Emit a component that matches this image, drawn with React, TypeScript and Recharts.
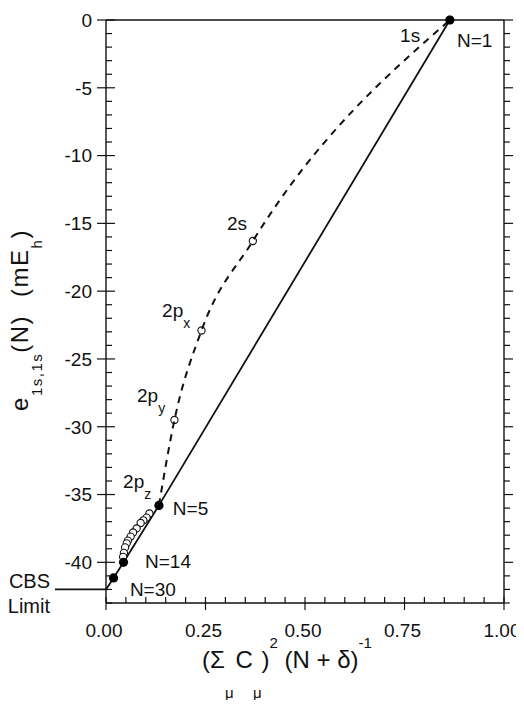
import { ComposedChart, Line, Scatter, XAxis, YAxis } from "recharts";

const font = "'Liberation Sans', Arial, Helvetica, sans-serif";
const ink = "#111";

// filled circles: N = 1, 5, 14, 30
const filledX = [0.864, 0.133, 0.044, 0.019];
const filledY = [0, -35.8, -40.0, -41.15];
const cbsLimit = -42;

// open circles on the dashed curve: 1s, 2s, 2px, 2py, 2pz
const orbitalX = [0.864, 0.369, 0.24, 0.172, 0.133];
const orbitalY = [0, -16.3, -22.9, -29.5, -35.8];

// open circles between N=5 and N=14
const clusterX = [0.109, 0.102, 0.094, 0.087, 0.077, 0.068, 0.062, 0.055, 0.052, 0.048, 0.045, 0.043];
const clusterY = [-36.4, -36.7, -36.9, -37.1, -37.5, -37.8, -38.1, -38.4, -38.6, -38.9, -39.3, -39.6];

// annotations (data coordinates)
const noteText = ["1s", "N=1", "2s", "2p", "2p", "2p", "N=5", "N=14", "N=30"];
const noteSub = ["", "", "", "x", "y", "z", "", "", ""];
const noteX = [0.739, 0.882, 0.304, 0.141, 0.078, 0.043, 0.168, 0.098, 0.06];
const noteY = [-1.6, -2.0, -15.5, -21.9, -28.2, -34.5, -36.5, -40.4, -42.5];

const xTicks = [0, 0.05, 0.1, 0.15, 0.2, 0.25, 0.3, 0.35, 0.4, 0.45, 0.5, 0.55, 0.6, 0.65, 0.7, 0.75, 0.8, 0.85, 0.9, 0.95, 1];
const xMajor = [0, 0.25, 0.5, 0.75, 1];
const yTicks = [
  0, -1, -2, -3, -4, -5, -6, -7, -8, -9, -10, -11, -12, -13, -14, -15, -16, -17, -18, -19, -20, -21,
  -22, -23, -24, -25, -26, -27, -28, -29, -30, -31, -32, -33, -34, -35, -36, -37, -38, -39, -40, -41,
  -42, -43,
];
const yMajor = [0, -5, -10, -15, -20, -25, -30, -35, -40];

const filled = filledX.map((x, i) => ({ x, y: filledY[i] }));
const solidPath = [...filled, { x: 0, y: cbsLimit }];
const orbitals = orbitalX.map((x, i) => ({ x, y: orbitalY[i] }));
const dashedPath = [...orbitals].sort((a, b) => a.x - b.x);
const cluster = clusterX.map((x, i) => ({ x, y: clusterY[i] }));
const notes = noteText.map((text, i) => ({ x: noteX[i], y: noteY[i], text, sub: noteSub[i] }));

const isMajor = (v: number, list: number[]) => list.some((m) => Math.abs(m - v) < 1e-9);

const BottomTick = (props: any) => {
  const { x, y, payload } = props;
  const major = isMajor(payload.value, xMajor);
  return (
    <g>
      <line x1={x} x2={x} y1={y - 6} y2={major ? y + 7 : y} stroke={ink} strokeWidth={1.2} />
      {major && (
        <text x={x - 2} y={y + 34} textAnchor="middle" fontSize={19} fontFamily={font} fill={ink}>
          {payload.value.toFixed(2)}
        </text>
      )}
    </g>
  );
};

const TopTick = (props: any) => {
  const { x, y, payload } = props;
  const major = isMajor(payload.value, xMajor);
  return <line x1={x} x2={x} y1={y} y2={y - (major ? 10 : 5)} stroke={ink} strokeWidth={1.2} />;
};

const LeftTick = (props: any) => {
  const { x, y, payload } = props;
  const v = payload.value;
  const major = isMajor(v, yMajor);
  return (
    <g>
      <line x1={major ? x - 9 : x} x2={x + (major ? 9 : 6)} y1={y} y2={y} stroke={ink} strokeWidth={1.2} />
      {major && (
        <text x={x - 14} y={y} dy="0.36em" textAnchor="end" fontSize={19} fontFamily={font} fill={ink}>
          {v}
        </text>
      )}
      {v === cbsLimit && (
        <g>
          <line x1={x - 51} x2={x} y1={y} y2={y} stroke={ink} strokeWidth={1.8} />
          <text x={x - 56} y={y - 1} textAnchor="end" fontSize={20} fontFamily={font} fill={ink}>
            CBS
          </text>
          <text x={x - 56} y={y + 24} textAnchor="end" fontSize={20} fontFamily={font} fill={ink}>
            Limit
          </text>
        </g>
      )}
    </g>
  );
};

const RightTick = (props: any) => {
  const { x, y, payload } = props;
  const major = isMajor(payload.value, yMajor);
  return <line x1={x} x2={x + (major ? 9 : 6)} y1={y} y2={y} stroke={ink} strokeWidth={1.2} />;
};

const renderXTitle = (props: any) => {
  const vb = props.viewBox;
  return (
    <text x={vb.x + 181} y={vb.y + 65} textAnchor="middle" fontSize={24} fontFamily={font} fill={ink}>
      <tspan>(Σ</tspan>
      <tspan fontSize={15} dy={30}>μ</tspan>
      <tspan dy={-30} dx={2}>C</tspan>
      <tspan fontSize={15} dy={30}>μ</tspan>
      <tspan dy={-30}>)</tspan>
      <tspan fontSize={15} dy={-20}>2</tspan>
      <tspan dy={20}>{" (N + δ)"}</tspan>
      <tspan fontSize={15} dy={-20}>-1</tspan>
    </text>
  );
};

const renderYTitle = (props: any) => {
  const vb = props.viewBox;
  const cx = vb.x + vb.width - 78;
  const cy = vb.y + vb.height / 2 + 8.5;
  return (
    <text
      x={cx}
      y={cy}
      transform={`rotate(-90, ${cx}, ${cy})`}
      textAnchor="middle"
      fontSize={24}
      letterSpacing={1.5}
      fontFamily={font}
      fill={ink}
    >
      <tspan>e</tspan>
      <tspan fontSize={15} dy={14}>1s,1s</tspan>
      <tspan dy={-14}>(N)</tspan>
      <tspan dx={18}>(mE</tspan>
      <tspan fontSize={15} dy={14}>h</tspan>
      <tspan dy={-14}>)</tspan>
    </text>
  );
};

const NoteShape = (props: any) => {
  const { cx, cy, payload } = props;
  return (
    <text x={cx} y={cy} fontSize={19} fontFamily={font} fill={ink}>
      {payload.text}
      {payload.sub && (
        <tspan fontSize={14} dy={11}>
          {payload.sub}
        </tspan>
      )}
    </text>
  );
};

const axisLine = { stroke: ink, strokeWidth: 1.4 };

export default function App() {
  return (
    <div style={{ width: 524, height: 708, margin: -8 }}>
      <ComposedChart width={524} height={708} margin={{ top: 19, right: 19, bottom: 104, left: 105 }}>
        <XAxis
          type="number"
          dataKey="x"
          domain={[0, 1]}
          ticks={xTicks}
          interval={0}
          height={1}
          tickSize={0}
          tickMargin={0}
          tickLine={false}
          axisLine={axisLine}
          tick={BottomTick}
          label={renderXTitle}
        />
        <XAxis
          xAxisId="top"
          orientation="top"
          type="number"
          domain={[0, 1]}
          allowDataOverflow
          ticks={xTicks}
          interval={0}
          height={1}
          tickSize={0}
          tickMargin={0}
          tickLine={false}
          axisLine={axisLine}
          tick={TopTick}
        />
        <YAxis
          type="number"
          dataKey="y"
          domain={[-43, 0]}
          ticks={yTicks}
          interval={0}
          width={1}
          tickSize={0}
          tickMargin={0}
          tickLine={false}
          axisLine={axisLine}
          tick={LeftTick}
          label={renderYTitle}
        />
        <YAxis
          yAxisId="right"
          orientation="right"
          type="number"
          domain={[-43, 0]}
          allowDataOverflow
          ticks={yTicks}
          interval={0}
          width={1}
          tickSize={0}
          tickMargin={0}
          tickLine={false}
          axisLine={axisLine}
          tick={RightTick}
        />
        <Line
          data={solidPath}
          dataKey="y"
          type="linear"
          stroke={ink}
          strokeWidth={1.8}
          dot={false}
          activeDot={false}
          isAnimationActive={false}
        />
        <Scatter
          data={cluster}
          isAnimationActive={false}
          shape={(p: any) => <circle cx={p.cx} cy={p.cy} r={3.6} fill="#fff" stroke={ink} strokeWidth={1.1} />}
        />
        <Line
          data={dashedPath}
          dataKey="y"
          type="monotone"
          stroke={ink}
          strokeWidth={2}
          strokeDasharray="7 6"
          dot={false}
          activeDot={false}
          isAnimationActive={false}
        />
        <Scatter
          data={orbitals}
          isAnimationActive={false}
          shape={(p: any) => <circle cx={p.cx} cy={p.cy} r={3.6} fill="none" stroke={ink} strokeWidth={1.1} />}
        />
        <Scatter
          data={filled}
          isAnimationActive={false}
          shape={(p: any) => <circle cx={p.cx} cy={p.cy} r={4.6} fill="#000" />}
        />
        <Scatter data={notes} isAnimationActive={false} shape={NoteShape} />
      </ComposedChart>
    </div>
  );
}
